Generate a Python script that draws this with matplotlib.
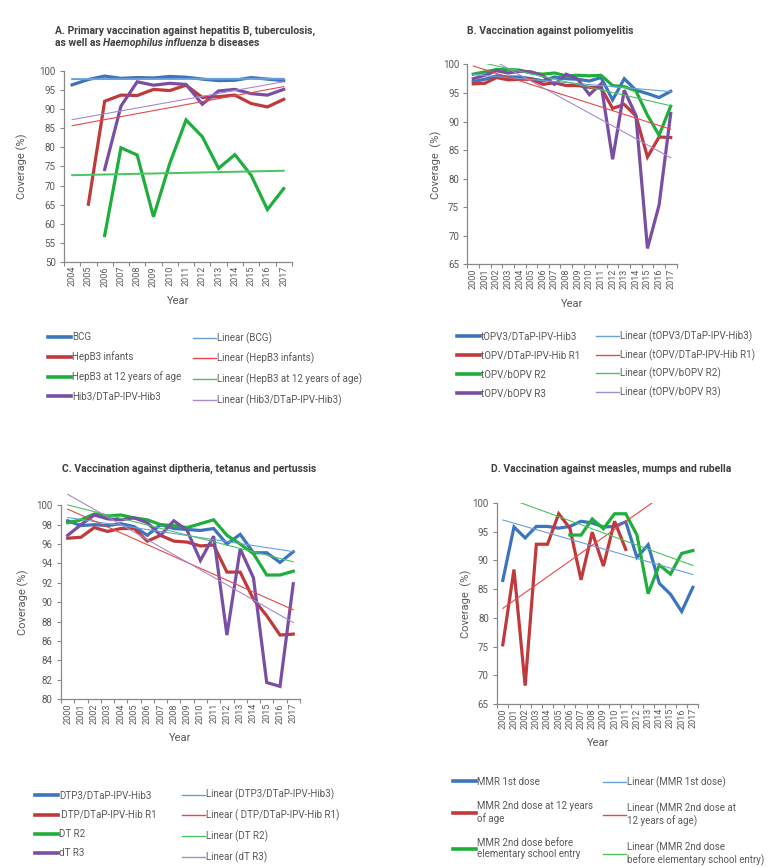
import numpy as np
import matplotlib
matplotlib.use('Agg')
import matplotlib.pyplot as plt
from matplotlib.lines import Line2D

plt.rcParams['font.family'] = ['Roboto', 'DejaVu Sans']

nan = np.nan

# A. hepatitis B, tuberculosis, Hib
years_a = list(range(2004, 2018))
bcg = [96.4, 97.8, 98.7, 98.1, 98.3, 98.2, 98.6, 98.4, 97.9, 97.5, 97.6, 98.3, 97.9, 97.5]
hepb3_inf = [nan, 65.1, 92.1, 93.7, 93.6, 95.2, 94.9, 96.3, 93.1, 93.3, 93.7, 91.5, 90.6, 92.6]
hepb3_12 = [nan, nan, 56.9, 79.9, 78.0, 61.8, 75.8, 87.2, 82.8, 74.5, 78.1, 72.7, 63.7, 69.2]
hib3 = [nan, nan, 74.2, 90.8, 97.2, 96.3, 96.8, 96.5, 91.3, 94.8, 95.2, 94.1, 93.7, 95.2]
labels_a = ['BCG', 'HepB3 infants', 'HepB3 at 12 years of age', 'Hib3/DTaP-IPV-Hib3']

# B. poliomyelitis
years_b = list(range(2000, 2018))
topv3 = [97.0, 97.4, 98.0, 97.8, 97.8, 97.5, 97.1, 97.8, 97.5, 97.4, 97.1, 97.7, 93.8, 97.5, 95.5, 94.9, 94.2, 95.3]
topv_r1 = [96.6, 96.7, 97.7, 97.3, 97.4, 97.4, 96.5, 96.8, 96.3, 96.3, 96.0, 95.9, 92.3, 93.0, 91.0, 83.8, 87.3, 87.2]
topv_r2 = [98.3, 98.7, 99.1, 99.1, 99.0, 98.5, 98.3, 98.5, 98.0, 98.1, 98.0, 98.1, 96.3, 96.1, 95.4, 91.1, 87.6, 92.7]
topv_r3 = [97.5, 98.1, 98.9, 98.5, 98.8, 98.7, 98.0, 96.5, 98.3, 97.4, 94.7, 96.6, 83.4, 95.5, 91.1, 67.8, 75.4, 91.4]
labels_b = ['tOPV3/DTaP-IPV-Hib3', 'tOPV/DTaP-IPV-Hib R1', 'tOPV/bOPV R2', 'tOPV/bOPV R3']

# C. diptheria, tetanus, pertussis
years_c = list(range(2000, 2018))
dtp3 = [98.4, 97.9, 98.0, 97.9, 98.1, 97.8, 96.9, 98.0, 97.6, 97.5, 97.4, 97.6, 96.0, 97.0, 95.1, 95.1, 94.1, 95.2]
dtp_r1 = [96.6, 96.7, 97.7, 97.3, 97.6, 97.6, 96.3, 96.9, 96.3, 96.2, 95.8, 95.9, 93.1, 93.1, 90.3, 88.6, 86.6, 86.7]
dt_r2 = [98.2, 98.5, 99.1, 98.9, 99.0, 98.7, 98.5, 98.0, 97.9, 97.7, 98.1, 98.5, 96.9, 96.0, 95.0, 92.8, 92.8, 93.2]
dt_r3 = [96.9, 98.0, 99.0, 98.6, 98.5, 98.7, 98.2, 96.9, 98.4, 97.4, 94.3, 96.8, 86.6, 95.5, 92.5, 81.7, 81.3, 91.9]
labels_c = ['DTP3/DTaP-IPV-Hib3', ' DTP/DTaP-IPV-Hib R1', 'DT R2', 'dT R3']
trend_labels_c = ['Linear (DTP3/DTaP-IPV-Hib3)', 'Linear ( DTP/DTaP-IPV-Hib R1)', 'Linear (DT R2)', 'Linear (dT R3)']

# D. measles, mumps, rubella
years_d = list(range(2000, 2018))
mmr1 = [86.5, 95.8, 93.9, 95.9, 95.9, 95.6, 95.9, 96.8, 96.5, 95.8, 95.9, 96.7, 90.5, 92.7, 86.0, 84.1, 81.1, 85.3]
mmr2_12 = [75.3, 88.4, 68.2, 92.8, 92.8, 98.1, 95.6, 86.6, 94.9, 89.0, 96.8, 91.9, nan, nan, nan, nan, nan, nan]
mmr2_school = [nan, nan, nan, nan, nan, nan, 94.4, 94.4, 97.2, 95.5, 98.1, 98.1, 94.4, 84.2, 89.2, 87.6, 91.2, 91.7]
labels_d = ['MMR 1st dose', 'MMR 2nd dose at 12 years\nof age', 'MMR 2nd dose before\nelementary school entry']
trend_labels_d = ['Linear (MMR 1st dose)', 'Linear (MMR 2nd dose at\n12 years of age)',
                  'Linear (MMR 2nd dose\nbefore elementary school entry)']

colors = ['#3D74BE', '#C0393B', '#1FAE3C', '#7A4FA3']
trend_colors = ['#6A9FDB', '#E8474A', '#48C460', '#A58BD0']
grey = '#595959'

fig = plt.figure(figsize=(7.83, 8.67), dpi=100)


def panel(rect, years, series, ylim, yticks, ylabel, pad, clip=True, trend_lw=None):
    ax = fig.add_axes(rect)
    x = np.array(years, dtype=float)
    for i, s in enumerate(series):
        y = np.array(s, dtype=float)
        ax.plot(x, y, color=colors[i], lw=2.3, solid_joinstyle='miter', zorder=3)
    # linear trend lines over the full category range
    for i, s in enumerate(series):
        y = np.array(s, dtype=float)
        ok = ~np.isnan(y)
        k, b = np.polyfit(x[ok], y[ok], 1)
        xe = np.array([x[0], x[-1]])
        lw = trend_lw[i] if trend_lw else 0.8
        ax.plot(xe, k * xe + b, color=trend_colors[i], lw=lw, zorder=4, clip_on=clip)
    ax.set_xlim(x[0] - 0.5, x[-1] + 0.5)
    ax.set_ylim(*ylim)
    ax.set_xticks(np.arange(x[0] - 0.5, x[-1] + 1))
    ax.set_xticklabels([])
    ax.set_xticks(x, minor=True)
    ax.set_xticklabels([str(v) for v in years], minor=True, rotation=90, fontsize=6.5, color=grey)
    ax.tick_params(axis='x', which='major', length=3, color='#888888')
    ax.tick_params(axis='x', which='minor', length=0, pad=3)
    ax.set_yticks(yticks)
    ax.set_yticklabels([str(v) for v in yticks], fontsize=7, color=grey)
    ax.tick_params(axis='y', length=3, color='#888888', pad=3)
    for sp in ['top', 'right']:
        ax.spines[sp].set_visible(False)
    for sp in ['left', 'bottom']:
        ax.spines[sp].set_color('#888888')
        ax.spines[sp].set_linewidth(0.9)
    ax.set_ylabel(ylabel, fontsize=8, color=grey, labelpad=pad)
    ax.set_xlabel('Year', fontsize=8, color=grey, labelpad=7)
    ax.patch.set_alpha(0)
    return ax


def legend_col(x, y, labels, cols, lw, spacing=0.95):
    handles = [Line2D([0], [0], color=c, lw=lw) for c in cols]
    lg = fig.legend(handles, labels, loc='upper left', bbox_to_anchor=(x, y), frameon=False,
                    fontsize=7.0, handlelength=2.35, handletextpad=0.15, labelspacing=spacing,
                    borderpad=0, borderaxespad=0, labelcolor=grey)
    return lg


def title(x, y, parts):
    r = fig.canvas.get_renderer()
    for txt, style in parts:
        t = fig.text(x, y, txt, fontsize=7.5, fontweight='bold', fontstyle=style,
                     color='#404040', va='center', ha='left')
        bb = t.get_window_extent(renderer=r)
        x = fig.transFigure.inverted().transform((bb.x1, bb.y0))[0]


# panels
ax_a = panel([0.0817, 0.698, 0.291, 0.220], years_a, [bcg, hepb3_inf, hepb3_12, hib3],
             (50, 100), list(range(50, 101, 5)), 'Coverage (%)', 8.5, trend_lw=[1.4, 0.8, 1.4, 0.8])
ax_b = panel([0.597, 0.695, 0.267, 0.2307], years_b, [topv3, topv_r1, topv_r2, topv_r3],
             (65, 100), list(range(65, 101, 5)), 'Coverage  (%)', 0.5)
ax_c = panel([0.078, 0.1938, 0.305, 0.2234], years_c, [dtp3, dtp_r1, dt_r2, dt_r3],
             (80, 100), list(range(80, 101, 2)), 'Coverage (%)', 5.5, clip=False)
ax_d = panel([0.635, 0.188, 0.257, 0.232], years_d, [mmr1, mmr2_12, mmr2_school],
             (65, 100), list(range(65, 101, 5)), 'Coverage  (%)', 0.5)

# titles
title(0.0702, 0.9642, [('A. Primary vaccination against hepatitis B, tuberculosis,', 'normal')])
title(0.0702, 0.9504, [('as well as ', 'normal'), ('Haemophilus influenza', 'italic'), (' b diseases', 'normal')])
title(0.5969, 0.9646, [('B. Vaccination against poliomyelitis', 'normal')])
title(0.0796, 0.4598, [('C. Vaccination against diptheria, tetanus and pertussis', 'normal')])
title(0.627, 0.4598, [('D. Vaccination against measles, mumps and rubella', 'normal')])

# legends
legend_col(0.0613, 0.617, labels_a, colors, 2.6)
legend_col(0.2465, 0.617, ['Linear (' + l + ')' for l in labels_a], trend_colors, 1.0)
legend_col(0.5837, 0.618, labels_b, colors, 2.6)
legend_col(0.7612, 0.619, ['Linear (' + l + ')' for l in labels_b], trend_colors, 1.0, spacing=0.75)
legend_col(0.0447, 0.088, labels_c, colors, 2.6)
legend_col(0.2324, 0.090, trend_labels_c, trend_colors, 1.0)
legend_col(0.5785, 0.104, labels_d, colors[:3], 2.6, spacing=1.45)
legend_col(0.7701, 0.104, trend_labels_d, trend_colors[:3], 1.0, spacing=1.45)

fig.savefig('out.png', dpi=100)
